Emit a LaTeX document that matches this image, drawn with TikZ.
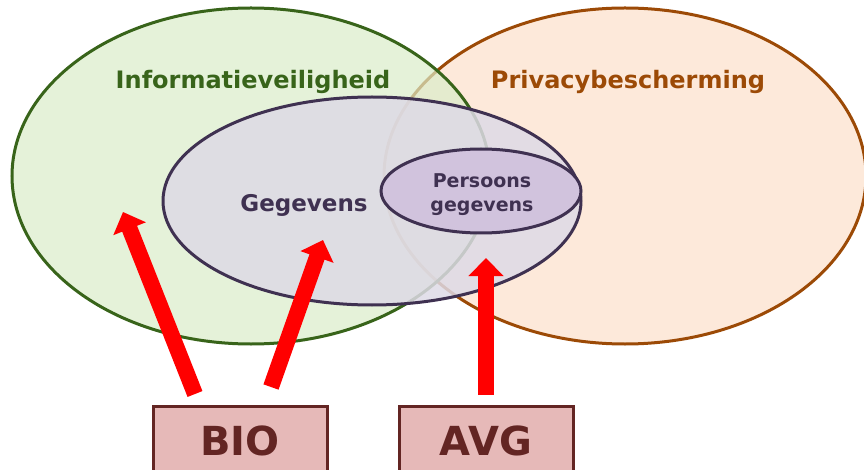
\documentclass[tikz,border=0pt]{standalone}
\usepackage{fontspec}
\setmainfont{DejaVu Sans}
\usepackage{tikz}
\usetikzlibrary{shapes.geometric}
\usetikzlibrary{arrows.meta}
\usetikzlibrary{positioning}
\definecolor{greenfill}{HTML}{DAECC9}
\definecolor{greenline}{HTML}{38641A}
\definecolor{orangefill}{HTML}{FDE9DA}
\definecolor{orangeline}{HTML}{9C4A06}
\definecolor{gegfill}{HTML}{DEDAE6}
\definecolor{pgfill}{HTML}{D1C3DD}
\definecolor{purpleline}{HTML}{3F3151}
\definecolor{boxfill}{HTML}{E6B9B8}
\definecolor{boxline}{HTML}{632523}

\begin{document}
\begin{tikzpicture}[
            x = 1pt, y = -1pt, % pixel grid of the picture
            > = {Triangle[width=34pt,length=18pt]}, % arrow head style
            line width = 3pt
        ]

        \tikzstyle{venn}=[
            ellipse,
            inner sep = 0pt
        ]
        \tikzstyle{label}=[
            anchor = base,
            font = \bfseries\fontsize{24}{28}\selectfont
        ]
        \tikzstyle{law}=[
            draw = boxline,
            fill = boxfill,
            text = boxline,
            minimum width = 174pt,
            minimum height = 70pt,
            font = \bfseries\fontsize{40}{44}\selectfont
        ]
        \tikzstyle{redarrow}=[
            ->,
            red,
            line width = 16pt
        ]

        \useasboundingbox (0,0) rectangle (864,470);
        \clip (0,0) rectangle (864,470);

	% sets
        \node[venn, fill=orangefill, draw=orangeline, minimum width=482pt, minimum height=336pt] (PB) at (625,176) {};
        \node[venn, fill=greenfill, fill opacity=0.7, draw=greenline, minimum width=478pt, minimum height=336pt] (IV) at (251,176) {};
        \node[venn, fill=gegfill, fill opacity=0.85, draw=purpleline, minimum width=418pt, minimum height=208pt] (G) at (372,201) {};
        \node[venn, fill=pgfill, draw=purpleline, minimum width=200pt, minimum height=84pt] (PG) at (481,191) {};

        % labels
        \node[label, text=greenline] (IVtext) at (253,89) {Informatieveiligheid};
        \node[label, text=orangeline] (PBtext) at (628,89) {Privacybescherming};
        \node[label, text=purpleline, font=\bfseries\fontsize{23}{28}\selectfont] (Gtext) at (304,212) {Gegevens};
        \node[text=purpleline, align=center, font=\bfseries\fontsize{19}{24}\selectfont] (PGtext) at (482,195) {Persoons\\gegevens};

        % laws
        \node[law] (BIO) at (240,441) {BIO};
        \node[law] (AVG) at (486,441) {AVG};

        \coordinate (BIO1) at (195,394);
        \coordinate (BIO2) at (271,387);
        \coordinate (AVG1) at (486,395);
        \coordinate (IVin) at (123,212);
        \coordinate (Gin) at (323,240);
        \coordinate (PGin) at (486,258);

        \draw[redarrow] (BIO1) -- (IVin);
        \draw[redarrow] (BIO2) -- (Gin);
        \draw[redarrow] (AVG1) -- (PGin);

\end{tikzpicture}
\end{document}
